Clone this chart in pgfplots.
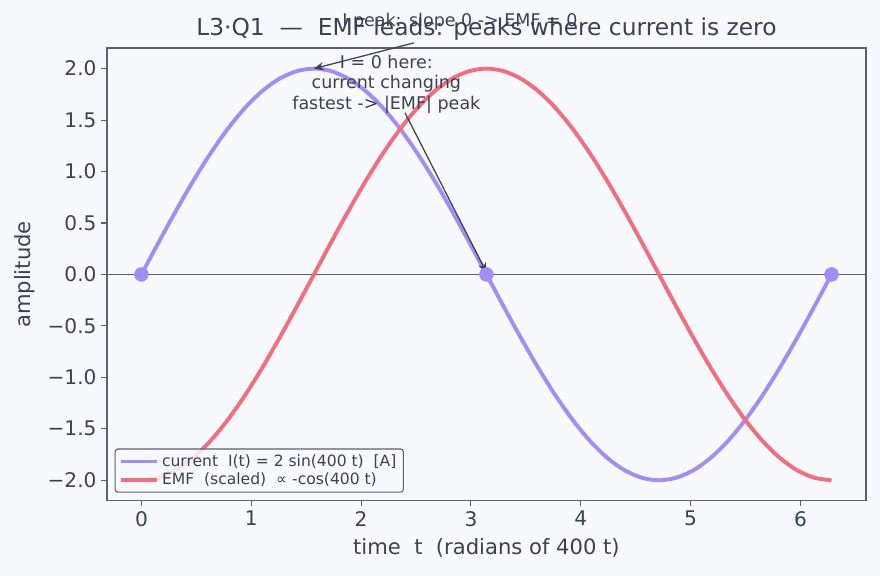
\documentclass[border=0pt]{standalone}
\usepackage{pgfplots}
\pgfplotsset{compat=1.18}
\usepackage{fontspec}
\setmainfont{DejaVu Sans}
\usetikzlibrary{arrows.meta}
\definecolor{bg}{HTML}{F8F9FC}
\definecolor{txt}{HTML}{3A4150}
\definecolor{ax}{HTML}{5C6070}
\definecolor{cur}{HTML}{A38CF4}
\definecolor{emf}{HTML}{F26D80}
\pgfplotstableread{
x y
0 0
0.1571 0.3129
0.3142 0.6180
0.4712 0.9080
0.6283 1.1756
0.7854 1.4142
0.9425 1.6180
1.0996 1.7820
1.2566 1.9021
1.4137 1.9754
1.5708 2.0000
1.7279 1.9754
1.8850 1.9021
2.0420 1.7820
2.1991 1.6180
2.3562 1.4142
2.5133 1.1756
2.6704 0.9080
2.8274 0.6180
2.9845 0.3129
3.1416 0
3.2987 -0.3129
3.4558 -0.6180
3.6128 -0.9080
3.7699 -1.1756
3.9270 -1.4142
4.0841 -1.6180
4.2412 -1.7820
4.3982 -1.9021
4.5553 -1.9754
4.7124 -2.0000
4.8695 -1.9754
5.0265 -1.9021
5.1836 -1.7820
5.3407 -1.6180
5.4978 -1.4142
5.6549 -1.1756
5.8119 -0.9080
5.9690 -0.6180
6.1261 -0.3129
6.2832 0
}\current
\pgfplotstableread{
x y
0 -2.0000
0.1571 -1.9754
0.3142 -1.9021
0.4712 -1.7820
0.6283 -1.6180
0.7854 -1.4142
0.9425 -1.1756
1.0996 -0.9080
1.2566 -0.6180
1.4137 -0.3129
1.5708 0
1.7279 0.3129
1.8850 0.6180
2.0420 0.9080
2.1991 1.1756
2.3562 1.4142
2.5133 1.6180
2.6704 1.7820
2.8274 1.9021
2.9845 1.9754
3.1416 2.0000
3.2987 1.9754
3.4558 1.9021
3.6128 1.7820
3.7699 1.6180
3.9270 1.4142
4.0841 1.1756
4.2412 0.9080
4.3982 0.6180
4.5553 0.3129
4.7124 0
4.8695 -0.3129
5.0265 -0.6180
5.1836 -0.9080
5.3407 -1.1756
5.4978 -1.4142
5.6549 -1.6180
5.8119 -1.7820
5.9690 -1.9021
6.1261 -1.9754
6.2832 -2.0000
}\emf
\pgfplotstableread{
x y
0 0
3.1416 0
6.2832 0
}\zeros
\begin{document}
\begin{tikzpicture}
\fill[bg] (-77pt,-54pt) rectangle (556.6pt,360.6pt);
\begin{axis}[
  at={(0,0)}, anchor=south west,
  scale only axis, width=546.5pt, height=326pt,
  xmin=-0.314, xmax=6.597, ymin=-2.2, ymax=2.2,
  axis background/.style={fill=bg},
  axis line style={ax, line width=0.9pt},
  tick style={ax, line width=0.8pt},
  tick align=outside, tick pos=left,
  major tick length=4pt,
  xtick={0,1,...,6},
  xticklabels={0,1,2,3,4,5,6},
  ytick={-2,-1.5,-1,-0.5,0,0.5,1,1.5,2},
  yticklabels={−2.0,−1.5,−1.0,−0.5,0.0,0.5,1.0,1.5,2.0},
  ticklabel style={font=\fontsize{14.5}{17}\selectfont, text=txt},
  xlabel={time\ \ t\ \ (radians of 400 t)},
  ylabel={amplitude},
  label style={font=\fontsize{15.2}{18}\selectfont, text=txt},
  xlabel style={yshift=-2pt},
  ylabel style={yshift=2pt},
  title={L3·Q1\ \ —\ \ EMF leads: peaks where current is zero},
  title style={font=\fontsize{16.8}{20}\selectfont, text=txt, yshift=-4pt},
  legend style={at={(0.01,0.018)}, anchor=south west, draw=ax, rounded corners=2pt,
    fill=bg, fill opacity=0.85, draw opacity=1, text opacity=1,
    font=\fontsize{11.2}{13}\selectfont, text=txt, line width=0.8pt,
    row sep=-1pt, inner ysep=2pt},
  legend cell align=left,
  legend image code/.code={\draw[#1, line width=2.8pt, opacity=1] (0pt,0pt) -- (26pt,0pt);},
  clip=false,
]
\draw[ax, line width=0.9pt] (axis cs:-0.314,0) -- (axis cs:6.597,0);
\addplot[cur, line width=2.8pt, line join=round, smooth] table {\current};
\addlegendentry{current\ \ I(t) = 2 sin(400 t)\ \ [A]}
\addplot[emf, line width=2.8pt, line join=round, smooth] table {\emf};
\addlegendentry{EMF\ \ (scaled)\ \ ∝ -cos(400 t)}
\addplot[only marks, mark=*, mark size=5pt, cur, forget plot] table {\zeros};
\node[font=\fontsize{12.6}{15}\selectfont, text=txt] (A) at (axis cs:2.9,2.46) {I peak: slope 0 -> EMF = 0};
\draw[-{Stealth[length=7pt,width=6pt]}, txt, line width=0.9pt] (axis cs:2.48,2.25) -- (axis cs:1.5708,2.0);
\node[font=\fontsize{12.6}{14.8}\selectfont, text=txt, align=center, inner sep=1pt] (B) at (axis cs:2.23,1.85) {I = 0 here:\\current changing\\fastest -> |EMF| peak};
\draw[-{Stealth[length=7pt,width=6pt]}, txt, line width=0.9pt] (axis cs:2.4,1.57) -- (axis cs:3.1416,0.02);
\end{axis}
\end{tikzpicture}
\end{document}
